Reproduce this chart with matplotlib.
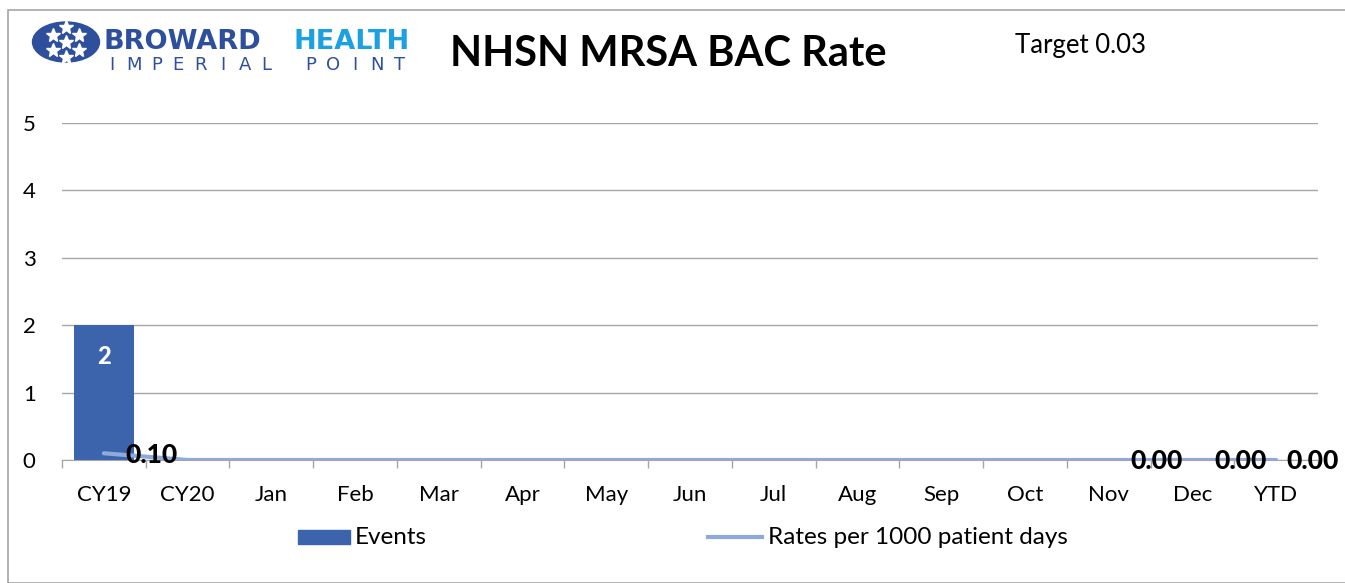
import matplotlib
matplotlib.use("Agg")
import matplotlib.pyplot as plt
import numpy as np
from matplotlib.patches import Rectangle, Ellipse
from matplotlib.lines import Line2D
from matplotlib.transforms import offset_copy

categories = ["CY19", "CY20", "Jan", "Feb", "Mar", "Apr", "May", "Jun",
              "Jul", "Aug", "Sep", "Oct", "Nov", "Dec", "YTD"]
events = [2, 0, 0, 0, 0, 0, 0, 0, 0, 0, 0, 0, 0, 0, 0]
rates = [0.10, 0.0, 0.0, 0.0, 0.0, 0.0, 0.0, 0.0, 0.0, 0.0, 0.0, 0.0, 0.00, 0.00, 0.00]
rate_labels = {0: "0.10", 12: "0.00", 13: "0.00", 14: "0.00"}
yticks = [0, 1, 2, 3, 4, 5]

plt.rcParams['font.family'] = ['Lato', 'DejaVu Sans']

W, H = 1345, 583
fig = plt.figure(figsize=(W / 100, H / 100), dpi=100)
fig.patch.set_facecolor("white")

# outer frame
fig.add_artist(Rectangle((8 / W, 0), 1.2, (H - 10) / H, transform=fig.transFigure,
                         fill=False, edgecolor="#a6a6a6", lw=1.2))

ax = fig.add_axes([62 / W, 1 - 460 / H, (1318 - 62) / W, (460 - 123) / H])
x = np.arange(len(categories))
bar_color = "#3b64ad"
line_color = "#8eaadb"

ax.bar(x, events, width=0.72, color=bar_color, zorder=2)
ax.plot(x, rates, color=line_color, lw=3, zorder=3, solid_capstyle="round")

for i, v in enumerate(events):
    if v > 0:
        ax.text(i, v - 0.47, str(v), ha="center", va="center", color="white",
                fontsize=17, fontweight="black", zorder=4)

for i, lab in rate_labels.items():
    dx = 10 if i == len(categories) - 1 else 22
    dy = -2 if i == 0 else -1
    tr = offset_copy(ax.transData, fig=fig, x=dx, y=dy, units="dots")
    ax.text(i, rates[i], lab, transform=tr, ha="left", va="center",
            fontsize=19, fontweight="black", color="black", zorder=5)

ax.set_xlim(-0.5, len(categories) - 0.5)
ax.set_ylim(0, 5)
ax.set_yticks(yticks)
ax.set_yticklabels([str(t) for t in yticks], fontsize=16)
ax.tick_params(axis="y", length=0, pad=19)
ax.yaxis.grid(True, color="#a6a6a6", lw=1, zorder=0)
ax.set_axisbelow(True)
ax.set_xticks(x)
ax.set_xticklabels(categories, fontsize=16)
ax.set_xticks(np.arange(-0.5, len(categories)), minor=True)
ax.tick_params(axis="x", which="major", length=0, pad=18)
ax.tick_params(axis="x", which="minor", length=6, color="#a6a6a6", width=1)
for s in ["top", "right", "left"]:
    ax.spines[s].set_visible(False)
ax.spines["bottom"].set_color("#a6a6a6")

# title
fig.text(450 / W, 1 - 54 / H, "NHSN MRSA BAC Rate", ha="left", va="center",
         fontsize=30, fontweight="bold", color="black")
fig.text(1015 / W, 1 - 45 / H, "Target 0.03", ha="left", va="center",
         fontsize=18.5, color="black")

# logo (text based)
fig.add_artist(Ellipse((66 / W, 1 - 42 / H), 67 / W, 40 / H, transform=fig.transFigure,
                       color="#2e4f9c"))
for (sx, sy) in [(53, 35), (79, 35), (66, 27), (53, 50), (79, 50), (66, 57), (66, 42)]:
    fig.add_artist(Line2D([sx / W], [1 - sy / H], marker="*", markersize=10,
                          color="white", transform=fig.transFigure))
fig.text(104 / W, 1 - 49 / H, "BROWARD", ha="left", va="baseline", fontsize=19.5,
         fontweight="bold", color="#2e4f9c", family="DejaVu Sans")
fig.text(294 / W, 1 - 49 / H, "HEALTH", ha="left", va="baseline", fontsize=19.5,
         fontweight="bold", color="#1ba1e2", family="DejaVu Sans")
logo_sub = "IMPERIAL POINT"
for k, ch in enumerate(logo_sub):
    fig.text((112 + k * 22.1) / W, 1 - 56 / H, ch, ha="center", va="top",
             fontsize=13, color="#2e4f9c", family="DejaVu Sans")

# legend
fig.add_artist(Rectangle((298 / W, 1 - 544 / H), 52 / W, 14 / H,
                         transform=fig.transFigure, color=bar_color))
fig.text(355 / W, 1 - 537 / H, "Events", ha="left", va="center", fontsize=17.5)
fig.add_artist(Line2D([708 / W, 762 / W], [1 - 537 / H, 1 - 537 / H], color=line_color,
                      lw=3, transform=fig.transFigure))
fig.text(768 / W, 1 - 537 / H, "Rates per 1000 patient days", ha="left",
         va="center", fontsize=17.5)

fig.savefig("out.png", dpi=100)
